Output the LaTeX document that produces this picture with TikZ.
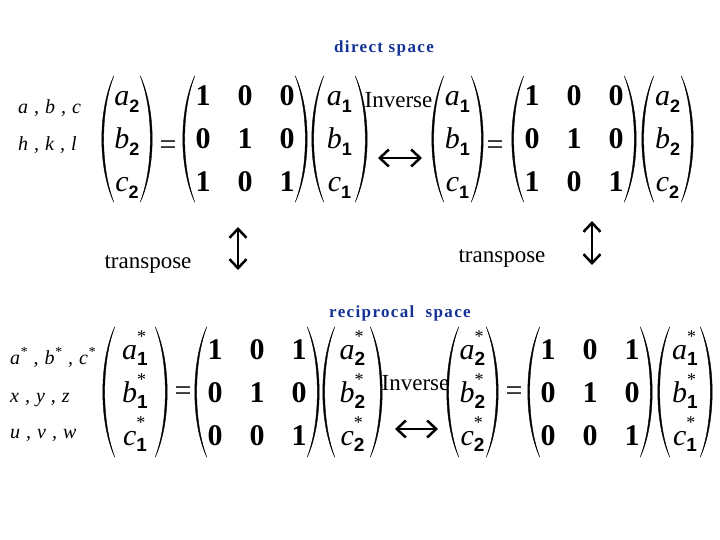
\documentclass[tikz,border=0pt]{standalone}
\usepackage{fontspec}
\setmainfont{Liberation Serif}
\newfontfamily\sansb{Liberation Sans}
\newfontfamily\spaced[LetterSpace=8]{Liberation Serif}
\usetikzlibrary{matrix,arrows.meta}
\definecolor{spaceblue}{RGB}{20,50,150}

% vector entries: italic letter, bold subscript (and star)
\newcommand\vsub[2]{\textit{#1}\raisebox{-7pt}{\fontsize{18}{18}\selectfont\sansb\bfseries #2}}
\newcommand\vstar[2]{\textit{#1}\rlap{\raisebox{17pt}{\fontsize{18}{18}\selectfont *}}\raisebox{-6pt}{\fontsize{19}{19}\selectfont\sansb\bfseries #2}}
\newcommand\lsep{\hspace{.3em},\hspace{.3em}}

% round brackets around a matrix node
\newcommand\parens[1]{%
  \path[paren] ([xshift=10pt]#1.north west) .. controls +(-16,35) and +(-16,-35) .. ([xshift=10pt]#1.south west)
    .. controls +(-13.5,-35) and +(-13.5,35) .. cycle;
  \path[paren] ([xshift=-10pt]#1.north east) .. controls +(16,35) and +(16,-35) .. ([xshift=-10pt]#1.south east)
    .. controls +(13.5,-35) and +(13.5,35) .. cycle;
}

\tikzset{
  cell/.style={inner sep=0pt, minimum height=40pt, text height=24pt, text depth=4pt},
  vec/.style={matrix of nodes, inner sep=0pt, row sep=3pt,
    nodes={cell, minimum width=#1, font=\fontsize{30}{30}\selectfont}},
  mat/.style={matrix of nodes, inner xsep=6pt, inner ysep=0pt, row sep=3pt, column sep=18pt,
    nodes={cell, minimum width=24pt, font=\fontsize{30}{30}\selectfont\bfseries}},
  paren/.style={fill=black, draw=black, line width=0.4pt},
  word/.style={font=\fontsize{23}{23}\selectfont, inner sep=0pt, anchor=base},
  lab/.style={font=\fontsize{20}{20}\selectfont\itshape, inner sep=0pt, anchor=base west},
  title/.style={font=\fontsize{17}{17}\selectfont\spaced\bfseries, text=spaceblue, inner sep=0pt, anchor=base},
  eq/.style={font=\fontsize{30}{30}\selectfont, inner sep=0pt, anchor=base},
  arr/.style={line width=2.5pt, {Straight Barb[length=9pt,width=17pt]}-{Straight Barb[length=9pt,width=17pt]}},
}

\begin{document}
\begin{tikzpicture}[x=1pt, y=-1pt]
  \useasboundingbox (0,0) rectangle (720,540);

  % direct space
  \node[title] (direct) at (384,53) {direct space};
  \node[lab] (abc) at (18,114) {a\lsep b\lsep c};
  \node[lab] (hkl) at (18,151) {h\lsep k\lsep l};

  \matrix (V1) [vec=46pt] at (127,139) {\vsub{a}{2} \\ \vsub{b}{2} \\ \vsub{c}{2} \\};
  \node[eq] (eq1) at (168,155) {=};
  \matrix (A1) [mat] at (245,139) {1 & 0 & 0 \\ 0 & 1 & 0 \\ 1 & 0 & 1 \\};
  \matrix (V2) [vec=51pt] at (339.5,139) {\vsub{a}{1} \\ \vsub{b}{1} \\ \vsub{c}{1} \\};
  \node[word] (inv1) at (398.5,108) {Inverse};
  \matrix (V3) [vec=47pt] at (457.5,139) {\vsub{a}{1} \\ \vsub{b}{1} \\ \vsub{c}{1} \\};
  \node[eq] (eq2) at (495,155) {=};
  \matrix (A2) [mat] at (574,139) {1 & 0 & 0 \\ 0 & 1 & 0 \\ 1 & 0 & 1 \\};
  \matrix (V4) [vec=47pt] at (667.5,139) {\vsub{a}{2} \\ \vsub{b}{2} \\ \vsub{c}{2} \\};
  \parens{V1} \parens{A1} \parens{V2} \parens{V3} \parens{A2} \parens{V4}

  \coordinate (i1a) at (378,158);
  \coordinate (i1b) at (422,158);
  \draw[arr] (i1a) -- (i1b);

  % transpose
  \node[word] (tr1) at (148,268) {transpose};
  \node[word] (tr2) at (502,262) {transpose};
  \coordinate (t1a) at (238,227);
  \coordinate (t1b) at (238,270);
  \coordinate (t2a) at (592,221);
  \coordinate (t2b) at (592,265);
  \draw[arr] (t1a) -- (t1b);
  \draw[arr] (t2a) -- (t2b);

  % reciprocal space
  \node[title] (recip) at (400,317) {reciprocal\ \ space};
  \node[lab] (abcs) at (10,364) {a\textsuperscript{*}\lsep b\textsuperscript{*}\lsep c\textsuperscript{*}};
  \node[lab] (xyz) at (10,402) {x\lsep y\lsep z};
  \node[lab] (uvw) at (10,438) {u\lsep v\lsep w};

  \matrix (W1) [vec=60pt, inner ysep=2pt] at (135,392) {\vstar{a}{1} \\ \vstar{b}{1} \\ \vstar{c}{1} \\};
  \node[eq] (eq3) at (183,400) {=};
  \matrix (B1) [mat, inner ysep=2pt] at (257,392) {1 & 0 & 1 \\ 0 & 1 & 0 \\ 0 & 0 & 1 \\};
  \matrix (W2) [vec=55pt, inner ysep=2pt] at (352.5,392) {\vstar{a}{2} \\ \vstar{b}{2} \\ \vstar{c}{2} \\};
  \node[word] (inv2) at (415.5,390) {Inverse};
  \matrix (W3) [vec=47pt, inner ysep=2pt] at (472.5,392) {\vstar{a}{2} \\ \vstar{b}{2} \\ \vstar{c}{2} \\};
  \node[eq] (eq4) at (514,400) {=};
  \matrix (B2) [mat, inner ysep=2pt] at (590,392) {1 & 0 & 1 \\ 0 & 1 & 0 \\ 0 & 0 & 1 \\};
  \matrix (W4) [vec=50pt, inner ysep=2pt] at (685,392) {\vstar{a}{1} \\ \vstar{b}{1} \\ \vstar{c}{1} \\};
  \parens{W1} \parens{B1} \parens{W2} \parens{W3} \parens{B2} \parens{W4}

  \coordinate (i2a) at (395,429);
  \coordinate (i2b) at (438,429);
  \draw[arr] (i2a) -- (i2b);
\end{tikzpicture}
\end{document}
